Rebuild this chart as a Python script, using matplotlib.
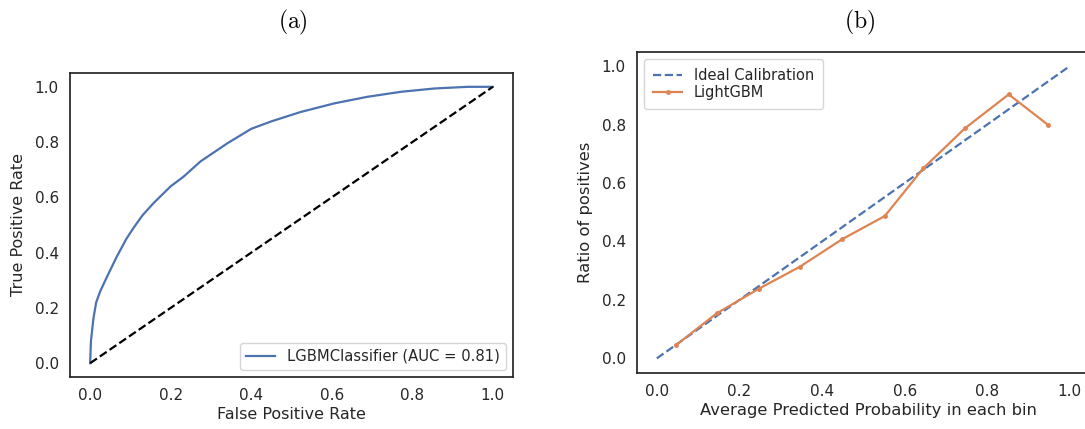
import matplotlib
matplotlib.use('Agg')
import matplotlib.pyplot as plt

plt.rcParams['font.family'] = ['DejaVu Sans']
plt.rcParams['mathtext.fontset'] = 'cm'

BLUE = '#4C72B0'
ORANGE = '#DD8452'
TXT = '#262626'

# ROC curve
fpr = [0, 0.002, 0.008, 0.015, 0.025, 0.041, 0.066, 0.09, 0.108, 0.13, 0.158,
       0.2, 0.232, 0.274, 0.34, 0.4, 0.45, 0.523, 0.606, 0.689, 0.772, 0.855, 0.938, 1.0]
tpr = [0, 0.08, 0.16, 0.22, 0.26, 0.31, 0.385, 0.45, 0.49, 0.535, 0.58,
       0.64, 0.675, 0.73, 0.795, 0.848, 0.875, 0.909, 0.94, 0.964, 0.982, 0.994, 1.0, 1.0]
roc_label = 'LGBMClassifier (AUC = 0.81)'

# calibration curve
prob_pred = [0.047, 0.145, 0.248, 0.347, 0.448, 0.552, 0.645, 0.746, 0.852, 0.946]
prob_true = [0.046, 0.154, 0.239, 0.314, 0.407, 0.487, 0.650, 0.787, 0.903, 0.800]
ideal = [0, 1]

W, H = 1085, 429
fig = plt.figure(figsize=(W / 100, H / 100), dpi=100)

def style(ax):
    for s in ax.spines.values():
        s.set_color(TXT)
        s.set_linewidth(1.25)
    ax.tick_params(length=0, pad=8, labelsize=11, labelcolor=TXT)
    ax.set_xticks([0, 0.2, 0.4, 0.6, 0.8, 1.0])
    ax.set_yticks([0, 0.2, 0.4, 0.6, 0.8, 1.0])

#==============================================
# (a) ROC
ax1 = fig.add_axes([70 / W, (H - 377) / H, 443 / W, 304 / H])
ax1.plot(fpr, tpr, color=BLUE, lw=1.6, label=roc_label)
ax1.plot([0, 1], [0, 1], 'k--', lw=1.6)
ax1.set_xlim(-0.05, 1.05)
ax1.set_ylim(-0.05, 1.05)
ax1.set_xlabel('False Positive Rate', fontsize=11.5, color=TXT, labelpad=3)
ax1.set_ylabel('True Positive Rate', fontsize=11.5, color=TXT, labelpad=6)
ax1.legend(loc='lower right', fontsize=10.6, handlelength=2.0, labelcolor=TXT)
style(ax1)

#==============================================
# (b) calibration (right edge falls outside the picture)
ax2 = fig.add_axes([637 / W, 56 / H, 463 / W, 321 / H])
ax2.plot(ideal, ideal, '--', color=BLUE, lw=1.6, label='Ideal Calibration')
ax2.plot(prob_pred, prob_true, '-', marker='.', ms=5, color=ORANGE, lw=1.6, label='LightGBM')
ax2.set_xlim(-0.048, 1.073)
ax2.set_ylim(-0.05, 1.048)
ax2.set_xlabel('Average Predicted Probability in each bin', fontsize=11.8, color=TXT, labelpad=3)
ax2.set_ylabel('Ratio of positives', fontsize=11.8, color=TXT, labelpad=6)
ax2.legend(loc='upper left', fontsize=10.5, handlelength=2.0, labelcolor=TXT,
           labelspacing=0.15, borderpad=0.6, borderaxespad=0.5)
style(ax2)
ax2.spines['right'].set_visible(False)

fig.text(293 / W, 1 - 22 / H, r'$\mathrm{(a)}$', fontsize=17, ha='center', va='center')
fig.text(860 / W, 1 - 22 / H, r'$\mathrm{(b)}$', fontsize=17, ha='center', va='center')

fig.savefig('out.png', dpi=100, facecolor='white')
